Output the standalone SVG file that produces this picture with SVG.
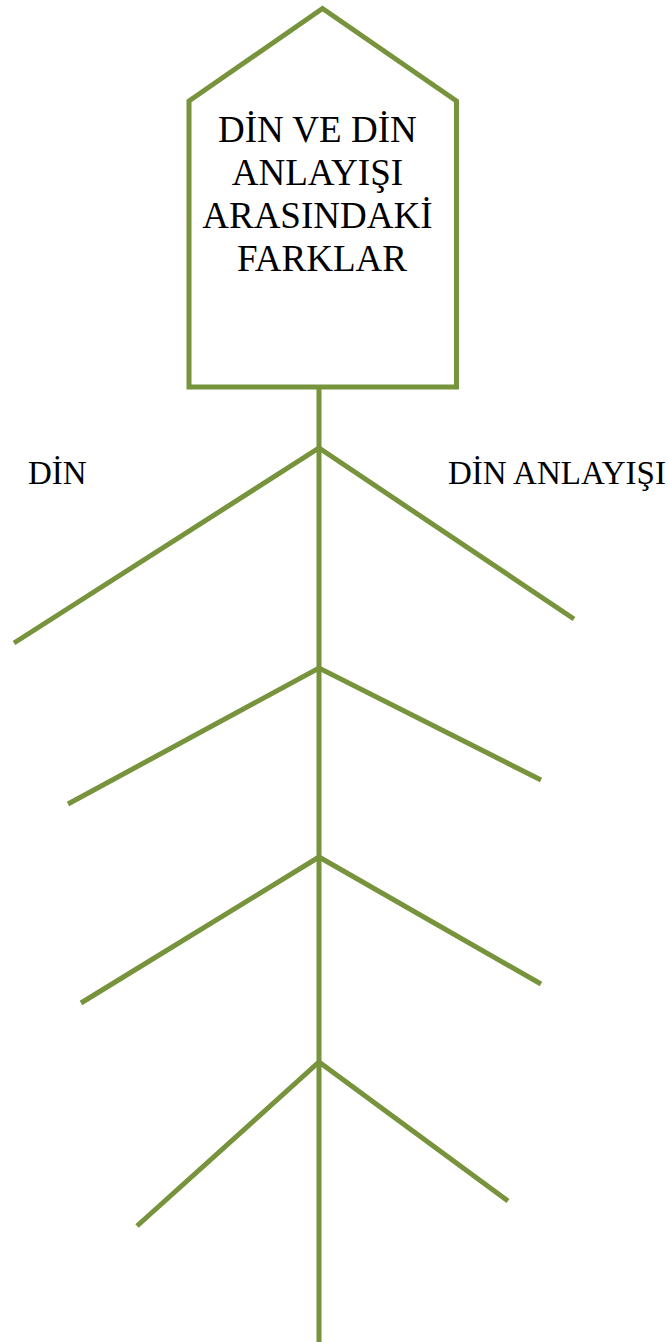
<svg xmlns="http://www.w3.org/2000/svg" width="668" height="1342" viewBox="0 0 668 1342">
<style>
.ln{stroke:#77933C;stroke-width:5;fill:none;stroke-linecap:butt}
.t{font-family:"Liberation Serif","Times New Roman",serif;fill:#000}
</style>
<rect width="668" height="1342" fill="#fff"/>
<g id="title">
<polygon class="ln" points="322.5,8.5 456.5,101 456.5,387 189,387 189,101" fill="#fff"/>
<text class="t" font-size="37" text-anchor="middle" x="322">
<tspan x="322" y="142">DİN VE DİN</tspan>
<tspan x="322" y="185">ANLAYIŞI</tspan>
<tspan x="322" y="228">ARASINDAKİ</tspan>
<tspan x="322" y="271">FARKLAR</tspan>
</text>
</g>
<g id="label-din"><text class="t" font-size="33" x="28" y="484">DİN</text></g>
<g id="label-din-anlayisi"><text class="t" font-size="33" x="448" y="484">DİN ANLAYIŞI</text></g>
<g id="connectors">
<line class="ln" x1="319" y1="387" x2="319" y2="1342"/>
<polyline class="ln" points="14,643 319,448 574,619"/>
<polyline class="ln" points="68,804 319,668 541,780"/>
<polyline class="ln" points="81,1003 319,857 541,984"/>
<polyline class="ln" points="137,1226 319,1062 508,1201"/>
</g>
</svg>
